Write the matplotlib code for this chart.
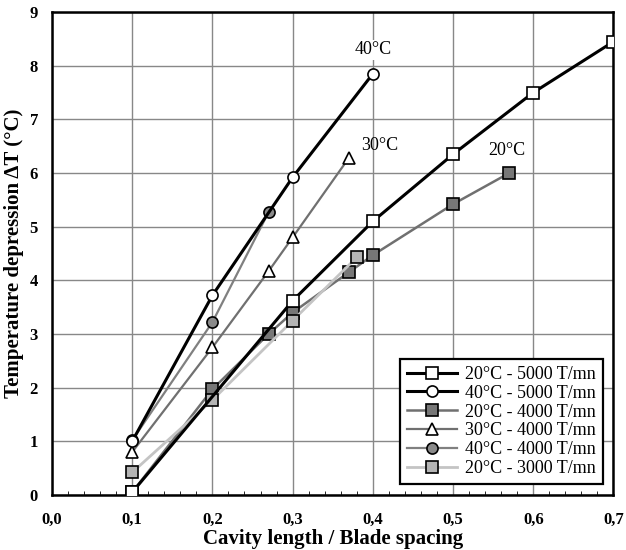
import matplotlib.pyplot as plt
import numpy as np
from matplotlib.ticker import MultipleLocator, FuncFormatter

plt.rcParams['font.family'] = ['Liberation Serif', 'DejaVu Serif']

# data
x_20_5000 = [0.1, 0.3, 0.4, 0.5, 0.6, 0.7]
y_20_5000 = [0.05, 3.62, 5.1, 6.35, 7.5, 8.45]
x_40_5000 = [0.1, 0.2, 0.3, 0.4]
y_40_5000 = [1.0, 3.72, 5.92, 7.85]
x_20_4000 = [0.1, 0.2, 0.27, 0.3, 0.37, 0.4, 0.5, 0.57]
y_20_4000 = [0.05, 1.97, 3.0, 3.4, 4.15, 4.47, 5.42, 6.0]
x_30_4000 = [0.1, 0.2, 0.27, 0.3, 0.37]
y_30_4000 = [0.8, 2.75, 4.17, 4.8, 6.28]
x_40_4000 = [0.1, 0.2, 0.27]
y_40_4000 = [1.02, 3.22, 5.27]
x_20_3000 = [0.1, 0.2, 0.3, 0.38]
y_20_3000 = [0.42, 1.77, 3.25, 4.43]

fig = plt.figure(figsize=(6.26, 5.5), dpi=100)
ax = fig.add_axes([0.083, 0.1, 0.897, 0.878])

ax.plot(x_20_5000, y_20_5000, color="black", lw=2.2, marker="s", ms=8,
        mfc="white", mec="black", mew=1.2, label="20°C - 5000 T/mn", zorder=5)
ax.plot(x_40_5000, y_40_5000, color="black", lw=2.2, marker="o", ms=8,
        mfc="white", mec="black", mew=1.2, label="40°C - 5000 T/mn", zorder=4)
ax.plot(x_20_4000, y_20_4000, color="#707070", lw=1.8, marker="s", ms=8,
        mfc="#777777", mec="black", mew=1.2, label="20°C - 4000 T/mn", zorder=3)
ax.plot(x_30_4000, y_30_4000, color="#707070", lw=1.6, marker="^", ms=8,
        mfc="white", mec="black", mew=1.2, label="30°C - 4000 T/mn", zorder=3)
ax.plot(x_40_4000, y_40_4000, color="#808080", lw=1.6, marker="o", ms=8,
        mfc="#8a8a8a", mec="black", mew=1.2, label="40°C - 4000 T/mn", zorder=3)
ax.plot(x_20_3000, y_20_3000, color="#c4c4c4", lw=2.0, marker="s", ms=8,
        mfc="#b4b4b4", mec="black", mew=1.2, label="20°C - 3000 T/mn", zorder=3)

ax.text(0.401, 8.3, "40°C", fontsize=13, ha="center", va="center",
        bbox=dict(facecolor="white", edgecolor="none", pad=1))
ax.text(0.409, 6.52, "30°C", fontsize=13, ha="center", va="center")
ax.text(0.567, 6.42, "20°C", fontsize=13, ha="center", va="center")

ax.set_xlim(0, 0.7)
ax.set_ylim(0, 9)
ax.xaxis.set_major_locator(MultipleLocator(0.1))
ax.xaxis.set_minor_locator(MultipleLocator(0.02))
ax.yaxis.set_major_locator(MultipleLocator(1))
ax.xaxis.set_major_formatter(FuncFormatter(lambda v, p: f"{v:.1f}".replace(".", ",")))
ax.grid(True, which="major", color="#888888", lw=1.0)
ax.set_axisbelow(True)
ax.tick_params(which="both", direction="in", length=0, labelsize=12)
ax.tick_params(axis="x", pad=12)
ax.tick_params(axis="y", pad=10)
ax.tick_params(axis="x", which="minor", length=3, bottom=True, top=False)
for lab in ax.get_xticklabels() + ax.get_yticklabels():
    lab.set_fontweight("bold")
for s in ax.spines.values():
    s.set_linewidth(1.8)

ax.set_xlabel("Cavity length / Blade spacing", fontsize=15, fontweight="bold", labelpad=1)
ax.set_ylabel("Temperature depression ΔT (°C)", fontsize=15, fontweight="bold", labelpad=4)

leg = ax.legend(loc="lower right", fontsize=13, frameon=True, fancybox=False,
                edgecolor="black", framealpha=1, borderaxespad=0.6,
                handlelength=2.8, labelspacing=0.1, borderpad=0.4, handletextpad=0.4)
leg.get_frame().set_linewidth(1.6)

plt.savefig("out.png", dpi=100)
